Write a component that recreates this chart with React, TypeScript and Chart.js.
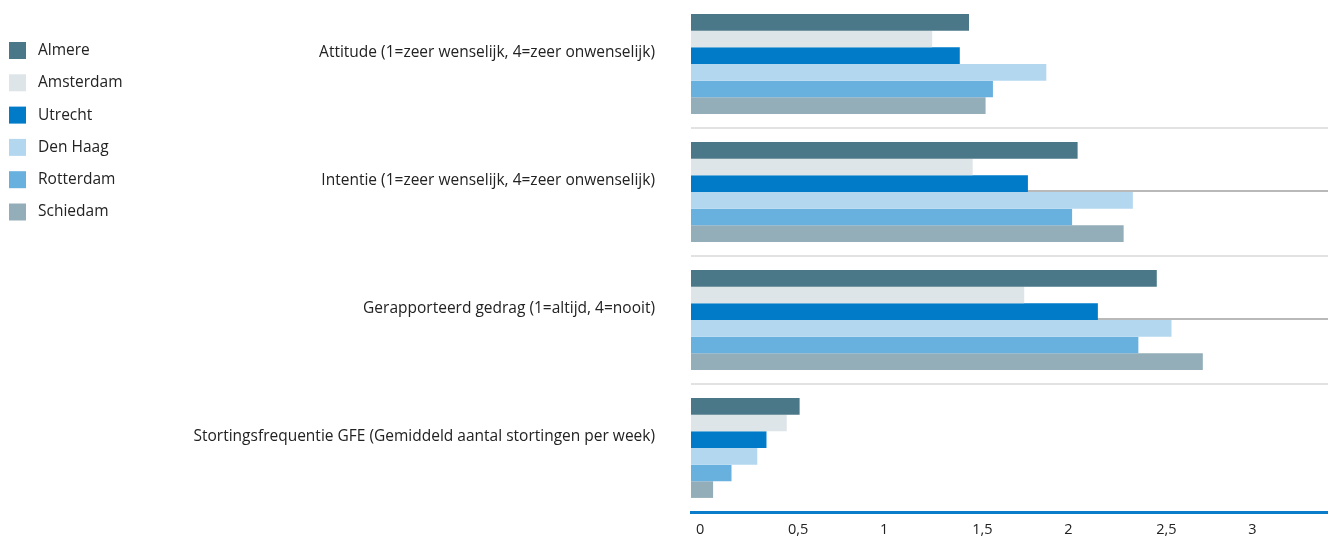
import React, { useEffect, useRef } from "react";
import { Chart, registerables } from "chart.js";

Chart.register(...registerables);

const categories = [
  "Attitude (1=zeer wenselijk, 4=zeer onwenselijk)",
  "Intentie (1=zeer wenselijk, 4=zeer onwenselijk)",
  "Gerapporteerd gedrag (1=altijd, 4=nooit)",
  "Stortingsfrequentie GFE (Gemiddeld aantal stortingen per week)",
];

const cities = ["Almere", "Amsterdam", "Utrecht", "Den Haag", "Rotterdam", "Schiedam"];

const almere = [1.51, 2.1, 2.53, 0.59];
const amsterdam = [1.31, 1.53, 1.81, 0.52];
const utrecht = [1.46, 1.83, 2.21, 0.41];
const denHaag = [1.93, 2.4, 2.61, 0.36];
const rotterdam = [1.64, 2.07, 2.43, 0.22];
const schiedam = [1.6, 2.35, 2.78, 0.12];

const seriesValues = [almere, amsterdam, utrecht, denHaag, rotterdam, schiedam];
const colors = ["#4b7888", "#dde5e8", "#017bc8", "#b3d7ef", "#68b0de", "#93aeb8"];

const xTicks = [0, 0.5, 1, 1.5, 2, 2.5, 3];
const xTickLabels = ["0", "0,5", "1", "1,5", "2", "2,5", "3"];
const xMax = 3.46;

const FONT = "'Open Sans', sans-serif";
const TEXT = "#222222";

const legendPlugin = {
  id: "sideLegend",
  afterDraw(chart: any) {
    const ctx = chart.ctx;
    ctx.save();
    ctx.font = `15.5px ${FONT}`;
    ctx.textBaseline = "middle";
    ctx.textAlign = "left";
    chart.data.datasets.forEach((ds: any, i: number) => {
      const cy = 50.5 + i * 32.3;
      ctx.fillStyle = ds.backgroundColor;
      ctx.fillRect(9, cy - 8.5, 17, 17);
      ctx.fillStyle = TEXT;
      ctx.fillText(ds.label, 38, cy);
    });
    ctx.restore();
  },
};

const centerLinePlugin = {
  id: "centerLines",
  beforeDatasetsDraw(chart: any) {
    const { ctx, chartArea, scales } = chart;
    ctx.save();
    ctx.strokeStyle = "#b9b9b9";
    ctx.lineWidth = 2;
    [1, 2].forEach((idx) => {
      const y = scales.y.getPixelForValue(idx) - 1;
      ctx.beginPath();
      ctx.moveTo(chartArea.left, y);
      ctx.lineTo(chartArea.right, y);
      ctx.stroke();
    });
    ctx.restore();
  },
};

export default function App() {
  const ref = useRef<HTMLCanvasElement | null>(null);

  useEffect(() => {
    document.body.style.margin = "0";
    const canvas = ref.current;
    if (!canvas) return;
    const chart = new Chart(canvas, {
      type: "bar",
      data: {
        labels: categories,
        datasets: cities.map((c, i) => ({
          label: c,
          data: seriesValues[i],
          backgroundColor: colors[i],
          borderWidth: 0,
          categoryPercentage: 0.78,
          barPercentage: 1,
        })),
      },
      options: {
        indexAxis: "y",
        animation: false,
        responsive: false,
        maintainAspectRatio: false,
        layout: { padding: 0 },
        plugins: {
          legend: { display: false },
          tooltip: { enabled: false },
        },
        scales: {
          x: {
            min: 0,
            max: xMax,
            afterBuildTicks(scale: any) {
              scale.ticks = xTicks.map((v) => ({ value: v }));
            },
            afterFit(scale: any) {
              scale.height = 27;
              scale.paddingLeft = 0;
              scale.paddingRight = 0;
              scale.paddingTop = 0;
              scale.paddingBottom = 0;
            },
            grid: { display: false },
            border: { display: true, color: "#0a7cc9", width: 3 },
            ticks: {
              align: "start",
              labelOffset: 5,
              padding: 1,
              color: TEXT,
              font: { family: FONT, size: 14.5 },
              callback: (_v: any, i: number) => xTickLabels[i],
            },
          },
          y: {
            afterFit(scale: any) {
              scale.width = 691;
              scale.paddingTop = 0;
              scale.paddingBottom = 0;
              scale.paddingLeft = 0;
              scale.paddingRight = 0;
            },
            grid: {
              offset: true,
              drawTicks: false,
              lineWidth: 2,
              color: (ctx: any) => (ctx.index === 0 ? "rgba(0,0,0,0)" : "#e2e2e2"),
            },
            border: { display: false },
            ticks: {
              padding: 36,
              labelOffset: -11,
              color: TEXT,
              font: { family: FONT, size: 15.5 },
            },
          },
        },
      },
      plugins: [legendPlugin, centerLinePlugin],
    } as any);
    return () => chart.destroy();
  }, []);

  return (
    <div style={{ width: 1328, height: 539 }}>
      <canvas ref={ref} width={1328} height={539} style={{ display: "block" }} />
    </div>
  );
}
